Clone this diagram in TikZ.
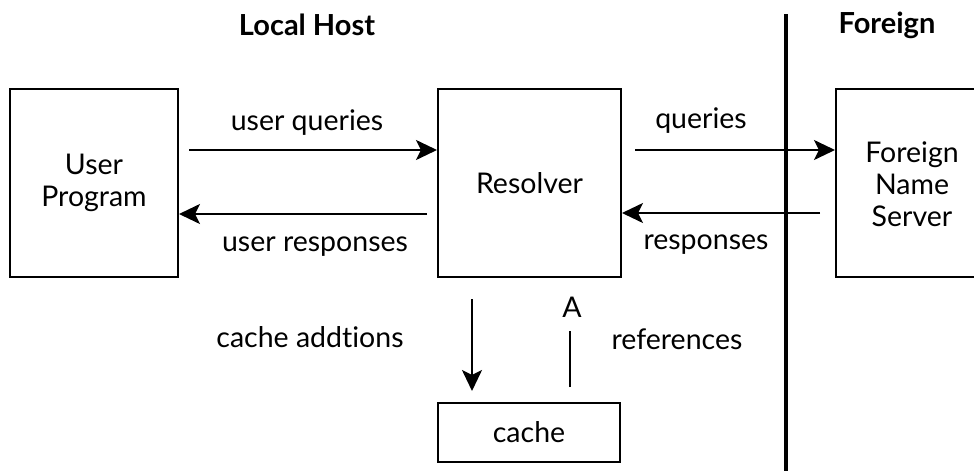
\documentclass[tikz,border=0pt]{standalone}
\usepackage{fontspec}
\setmainfont[Ligatures={NoCommon}]{Lato}
\usetikzlibrary{arrows.meta}
\tikzset{
  box/.style={draw, line width=2pt, align=center, inner sep=0pt,
    font=\fontsize{28.5}{32}\selectfont},
  lbl/.style={inner sep=0pt, font=\fontsize{28.5}{32}\selectfont},
  head/.style={inner sep=0pt, font=\fontsize{29}{32}\selectfont\bfseries},
  arr/.style={line width=2.2pt, -{Stealth[length=21pt,width=20pt,inset=5pt]}},
  link/.style={line width=2.2pt}
}
\begin{document}
\begin{tikzpicture}[x=1pt,y=-1pt]
\useasboundingbox (0,0) rectangle (974,471);
\clip (0,0) rectangle (974,471);
% boxes
\node[box, minimum width=168pt, minimum height=188pt] (user) at (94,183) {User\\Program};
\node[box, minimum width=183pt, minimum height=188pt] (resolver) at (529.5,183) {Resolver};
\node[box, minimum width=170pt, minimum height=188pt, anchor=west] (foreign) at (835,183) {};
\node[lbl, align=center] (fname) at (912,184) {Foreign\\Name\\Server};
\node[box, minimum width=182pt, minimum height=59pt] (cache) at (529,432.5) {cache};
% headings
\node[head] (local) at (307,25) {Local Host};
\node[head] (fhead) at (887,25) {Foreign};
% boundary between hosts
\coordinate (bt) at (786,14);
\coordinate (bb) at (786,471);
\draw[line width=4pt] (bt) -- (bb);
% horizontal exchanges
\draw[arr] ([xshift=10pt,yshift=33pt]user.east) -- ([yshift=33pt]resolver.west);
\draw[arr] ([xshift=-10pt,yshift=-31pt]resolver.west) -- ([yshift=-31pt]user.east);
\draw[arr] ([xshift=13pt,yshift=33pt]resolver.east) -- ([yshift=33pt]foreign.west);
\draw[arr] ([xshift=-15pt,yshift=-30pt]foreign.west) -- ([yshift=-30pt]resolver.east);
% cache exchanges
\draw[arr] ([xshift=35pt,yshift=-21pt]resolver.south west) -- ([xshift=35pt,yshift=11pt]cache.north west);
\node[lbl] (aref) at (572,307) {A};
\draw[link] ([xshift=133pt,yshift=15pt]cache.north west) -- ([xshift=133pt,yshift=-53pt]resolver.south west);
% labels
\node[lbl] (uq) at (307,123) {user queries};
\node[lbl] (ur) at (315,247) {user responses};
\node[lbl] (q) at (701,121) {queries};
\node[lbl] (r) at (706,245) {responses};
\node[lbl] (ca) at (310,337) {cache addtions};
\node[lbl] (ref) at (677,339) {references};
\end{tikzpicture}
\end{document}
